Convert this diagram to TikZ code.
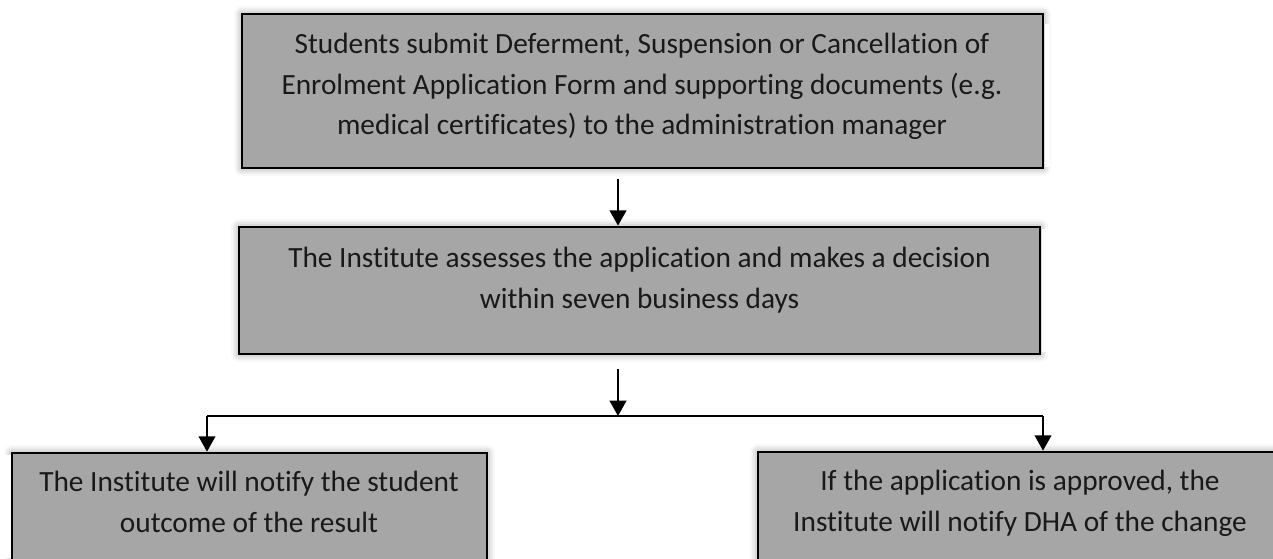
\documentclass[tikz,border=0pt]{standalone}
\usepackage{fontspec}
\setmainfont[Ligatures={NoCommon,NoRequired}]{Carlito}
\usetikzlibrary{arrows.meta,shadows.blur}
\definecolor{boxgray}{HTML}{A6A6A6}
\begin{document}
\begin{tikzpicture}[x=0.75pt,y=-0.75pt,
  box/.style={draw=black,line width=2pt,fill=boxgray,inner sep=0pt,
    blur shadow={shadow xshift=0pt,shadow yshift=0pt,shadow blur radius=6pt,shadow opacity=45}},
  txt/.style={font=\fontsize{22pt}{30pt}\selectfont,text=black!90,inner sep=0pt,anchor=base},
  arr/.style={line width=1.5pt,-{Triangle[width=12.5pt,length=11.5pt]}},
  link/.style={line width=1.2pt}]
\useasboundingbox (0,0) rectangle (1273,558);
\clip (0,0) rectangle (1273,558);
% boxes
\node[box,minimum width=600.75pt,minimum height=115.5pt] (b1) at (642.5,91) {};
\node[box,minimum width=600.75pt,minimum height=95.25pt] (b2) at (639.5,290.5) {};
\node[box,minimum width=356.25pt,minimum height=125.25pt] (b3) at (249.5,536.5) {};
\node[box,minimum width=399pt,minimum height=126pt] (b4) at (1024,536) {};
% white strips
\fill[white] (1045,24) rectangle (1050,167);
\fill[white] (1042,229) rectangle (1048,352);
\fill[white] (4,455) rectangle (10.5,558);
% texts
\node[txt] (t1a) at (642,53.5) {Students submit Deferment, Suspension or Cancellation of};
\node[txt] (t1b) at (642,94) {Enrolment Application Form and supporting documents (e.g.};
\node[txt] (t1c) at (642,134) {medical certificates) to the administration manager};
\node[txt] (t2a) at (639.5,267.5) {The Institute assesses the application and makes a decision};
\node[txt] (t2b) at (639.5,308) {within seven business days};
\node[txt] (t3a) at (249,491) {The Institute will notify the student};
\node[txt] (t3b) at (249,532.5) {outcome of the result};
\node[txt] (t4a) at (1020,490) {If the application is approved, the};
\node[txt] (t4b) at (1020,531.5) {Institute will notify DHA of the change};
% connectors
\coordinate (s1) at (618,179);
\coordinate (s2) at (618,369);
\coordinate (j) at (618,416);
\coordinate (hl) at (207,416);
\coordinate (hr) at (1043,416);
\draw[arr] (s1) -- (s1 |- b2.north);
\draw[arr] (s2) -- (j);
\draw[link] (hl) -- (hr);
\draw[arr,line width=1.2pt] (hl) -- (hl |- b3.north);
\draw[arr,line width=1.2pt] (hr) -- (hr |- b4.north);
\end{tikzpicture}
\end{document}
